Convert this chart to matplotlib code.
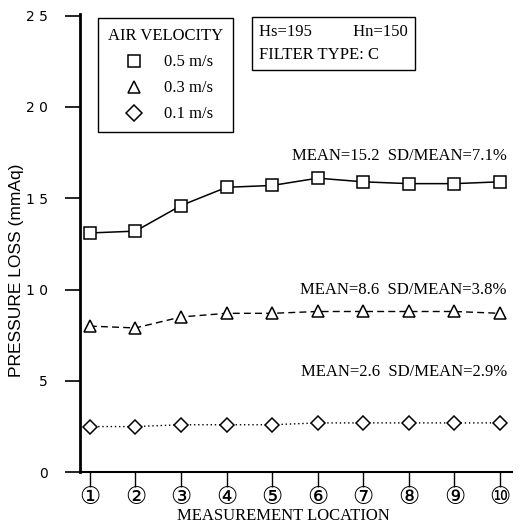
import matplotlib.pyplot as plt
from matplotlib.lines import Line2D

plt.rcParams['font.family'] = ['Liberation Serif', 'DejaVu Sans']

locations = list(range(1, 11))
loc_labels = ['①', '②', '③', '④', '⑤', '⑥', '⑦', '⑧', '⑨', '⑩']
v05 = [13.1, 13.2, 14.6, 15.6, 15.7, 16.1, 15.9, 15.8, 15.8, 15.9]
v03 = [8.0, 7.9, 8.5, 8.7, 8.7, 8.8, 8.8, 8.8, 8.8, 8.7]
v01 = [2.5, 2.5, 2.6, 2.6, 2.6, 2.7, 2.7, 2.7, 2.7, 2.7]
notes = ['MEAN=15.2  SD/MEAN=7.1%', 'MEAN=8.6  SD/MEAN=3.8%', 'MEAN=2.6  SD/MEAN=2.9%']
note_y = [17.3, 10.0, 5.5]

fig = plt.figure(figsize=(5.25, 5.30), dpi=100)
ax = fig.add_axes([0.152, 0.109, 0.823, 0.865])

ax.plot(locations, v05, color='black', lw=1.1, marker='s', ms=9, mfc='white', mec='black', mew=1.1)
ax.plot(locations, v03, color='black', lw=1.0, ls=(0, (5, 3)), marker='^', ms=9, mfc='white', mec='black', mew=1.1)
ax.plot(locations, v01, color='black', lw=1.0, ls=(0, (1, 2)), marker='D', ms=7, mfc='white', mec='black', mew=1.1)

for t, yy in zip(notes, note_y):
    ax.text(10.15, yy, t, ha='right', va='center', fontsize=12)

ax.set_xlim(0.78, 10.26)
ax.set_ylim(0, 25.1)
ax.set_xticks(locations)
ax.set_xticklabels(loc_labels, fontsize=17)
ax.set_yticks([0, 5, 10, 15, 20, 25])
ax.set_yticklabels(['0', '5', '1 0', '1 5', '2 0', '2 5'], fontsize=10, family='DejaVu Sans Condensed')
ax.tick_params(axis='y', direction='out', length=11, width=1.2, pad=12)
ax.tick_params(axis='x', direction='out', length=11, width=1.0, pad=0)
ax.spines['right'].set_visible(False)
ax.spines['top'].set_visible(False)
ax.spines['left'].set_linewidth(2)
ax.spines['bottom'].set_linewidth(1.5)

ax.set_xlabel('MEASUREMENT LOCATION', fontsize=12)
ax.xaxis.set_label_coords(0.47, -0.077)
ax.set_ylabel('PRESSURE LOSS (mmAq)', fontsize=12.5, family='Liberation Sans')
ax.yaxis.set_label_coords(-0.13, 0.44)

handles = [
    Line2D([], [], ls='none', marker='s', ms=9, mfc='white', mec='black', mew=1.1),
    Line2D([], [], ls='none', marker='^', ms=9, mfc='white', mec='black', mew=1.1),
    Line2D([], [], ls='none', marker='D', ms=8, mfc='white', mec='black', mew=1.1),
]
leg = ax.legend(handles, ['0.5 m/s', '0.3 m/s', '0.1 m/s'], title='AIR VELOCITY',
                loc='upper left', bbox_to_anchor=(0.022, 1.008), fancybox=False,
                edgecolor='black', framealpha=1, fontsize=12, title_fontsize=12,
                handletextpad=0.8, labelspacing=0.6, borderpad=0.6)
leg.get_frame().set_linewidth(1.0)

ax.text(0.415, 0.977, 'Hs=195          Hn=150\nFILTER TYPE: C', transform=ax.transAxes,
        ha='left', va='top', fontsize=12, linespacing=1.55,
        bbox=dict(boxstyle='square,pad=0.45', fc='white', ec='black', lw=1.0))

fig.savefig('out.png', dpi=100)
